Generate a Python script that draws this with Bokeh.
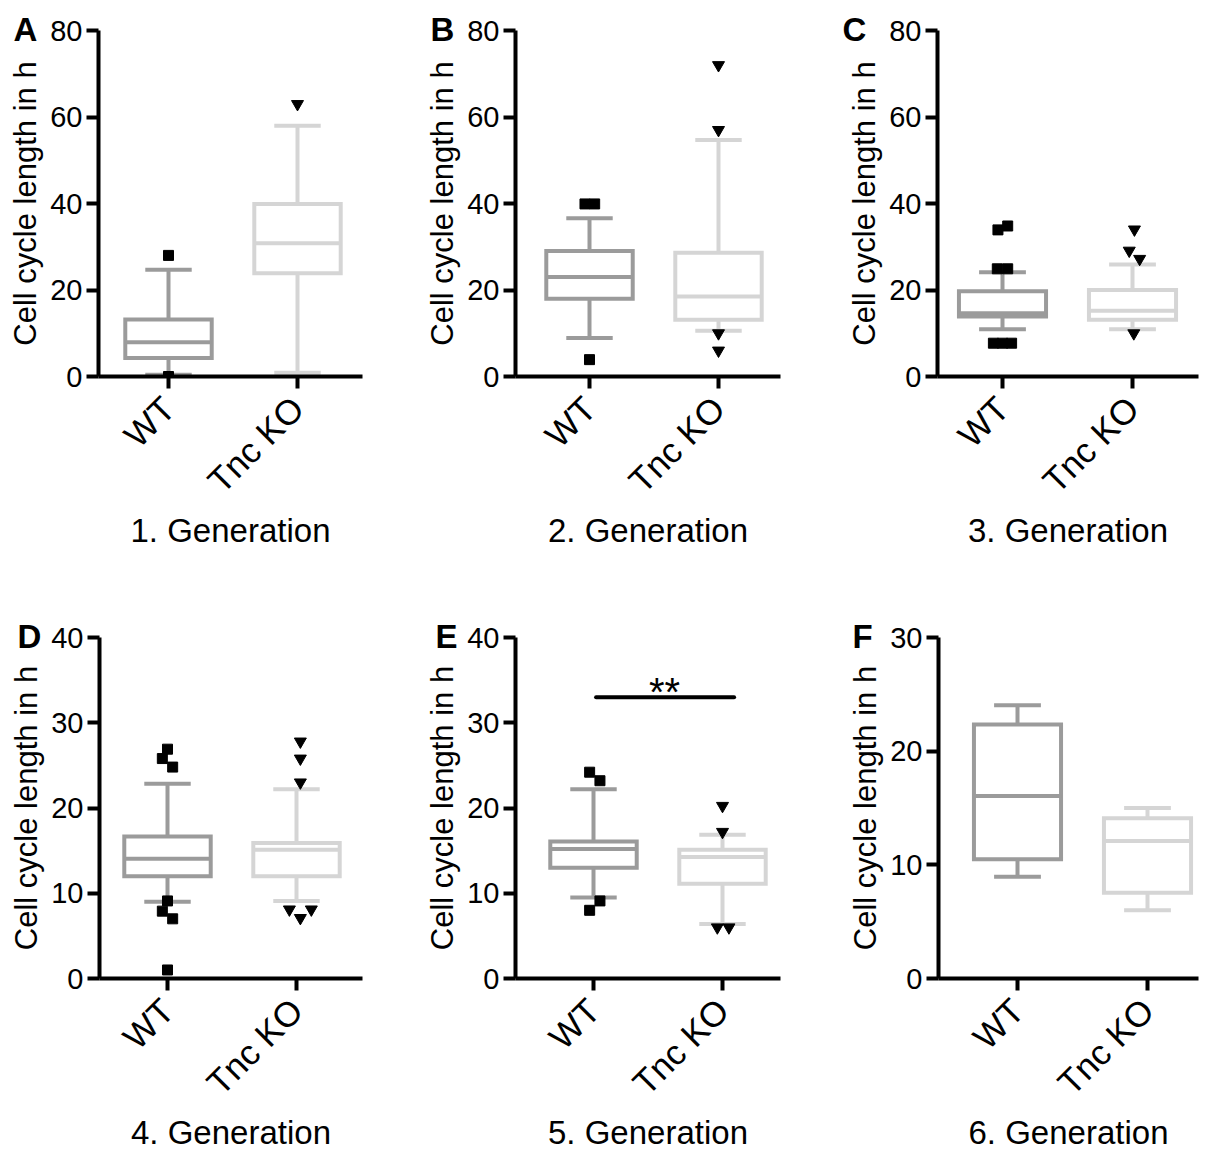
import math
from bokeh.plotting import figure
from bokeh.layouts import row, column
from bokeh.models import Title, FixedTicker
from bokeh.core.properties import value
from bokeh.embed import file_html
from bokeh.resources import INLINE

# ---------------- data ----------------
groups = ["WT", "Tnc KO"]
panel_letters = ["A", "B", "C", "D", "E", "F"]
generations = ["1. Generation", "2. Generation", "3. Generation",
               "4. Generation", "5. Generation", "6. Generation"]
y_max = [80, 80, 80, 40, 40, 30]
y_ticks = [[0, 20, 40, 60, 80], [0, 20, 40, 60, 80], [0, 20, 40, 60, 80],
           [0, 10, 20, 30, 40], [0, 10, 20, 30, 40], [0, 10, 20, 30]]

# box statistics per panel, [WT, Tnc KO]
q1 = [[4.3, 23.9], [18.0, 13.1], [13.9, 13.1], [12.0, 12.0], [13.0, 11.1], [10.5, 7.55]]
median = [[7.9, 30.8], [23.0, 18.5], [14.6, 15.2], [14.05, 15.1], [15.2, 14.25], [16.06, 12.1]]
q3 = [[13.2, 39.9], [29.0, 28.6], [19.7, 20.0], [16.65, 15.9], [16.07, 15.1], [22.35, 14.1]]
whisker_low = [[0.4, 0.85], [8.9, 10.6], [10.9, 10.9], [9.0, 9.1], [9.5, 6.4], [8.95, 6.0]]
whisker_high = [[24.7, 58.0], [36.6, 54.7], [24.1, 25.9], [22.85, 22.2], [22.2, 16.85], [24.05, 15.0]]

# outliers (value, small horizontal spread in category units)
wt_outliers = [[28.0, 0.0], [39.9, 39.9, 3.9], [33.9, 34.8, 24.9, 24.9, 7.7, 7.7, 7.7],
               [26.9, 25.8, 24.8, 9.1, 7.9, 7.0, 1.0], [24.2, 23.2, 9.1, 8.0], []]
wt_spread = [[0, 0], [-0.035, 0.04, 0], [-0.035, 0.04, -0.04, 0.04, -0.07, 0, 0.07],
             [0, -0.04, 0.04, 0, -0.04, 0.04, 0], [-0.03, 0.05, 0.05, -0.03], []]
ko_outliers = [[63.0], [72.0, 57.0, 10.0, 6.0], [34.0, 29.1, 27.2, 10.0],
               [27.8, 25.8, 23.0, 8.1, 8.1, 7.1], [20.25, 17.2, 6.0, 6.0], []]
ko_spread = [[0], [0, 0, 0, 0], [0.015, -0.025, 0.055, 0.01],
             [0.03, 0.03, 0.03, -0.055, 0.115, 0.03], [0, 0, -0.04, 0.05], []]

# significance bar (panel E)
sig_panel = 4
sig_y = 33.0
sig_text = "**"

# ---------------- style / layout ----------------
FONT = "Liberation Sans"
COLORS = ["#9b9b9b", "#d5d5d5"]
BOX_W = 0.67
CAP_W = 0.36
LW = 4

fig_x = [(0, 412), (412, 822), (822, 1209)]
row_y = [(0, 606), (606, 1153)]
row_top = [30, 637]
row_fh = [346, 348]
# (frame left, frame right, WT tick px, category spacing px)
frames = [(98, 362, 168, 129), (515, 780, 589, 129), (937, 1198, 1002, 130),
          (99, 362, 167, 129), (515, 780, 593, 129), (938, 1198, 1017, 130)]
letter_dx = [-85, -85, -95, -82, -80, -86]

figs = []
for k in range(6):
    r, c = divmod(k, 3)
    fx0, fx1 = fig_x[c]
    fy0, fy1 = row_y[r]
    fl, fr, wt_px, sp = frames[k]
    FH = row_fh[r]
    W = fx1 - fx0
    H = fy1 - fy0
    mbl = fl - fx0
    fw = fr - fl
    mbr = W - mbl - fw
    mbt = row_top[r] - fy0
    mbb = H - mbt - FH
    xs = 1 - (wt_px - fl) / sp
    xe = xs + fw / sp

    p = figure(width=W, height=H, x_range=(xs, xe), y_range=(0, y_max[k]),
               min_border_left=mbl, min_border_right=mbr,
               min_border_top=mbt, min_border_bottom=mbb,
               output_backend="svg", toolbar_location=None, tools="")
    p.outline_line_color = None
    p.grid.visible = False
    p.background_fill_color = "white"

    # boxes
    for g in range(2):
        xc = g + 1
        col = COLORS[g]
        p.segment(x0=[xc, xc], y0=[q3[k][g], q1[k][g]], x1=[xc, xc],
                  y1=[whisker_high[k][g], whisker_low[k][g]],
                  line_color=col, line_width=LW)
        p.segment(x0=[xc - CAP_W / 2] * 2, x1=[xc + CAP_W / 2] * 2,
                  y0=[whisker_high[k][g], whisker_low[k][g]],
                  y1=[whisker_high[k][g], whisker_low[k][g]],
                  line_color=col, line_width=LW)
        p.quad(left=[xc - BOX_W / 2], right=[xc + BOX_W / 2], bottom=[q1[k][g]], top=[q3[k][g]],
               fill_color="white", line_color=col, line_width=LW, line_join="miter")
        p.segment(x0=[xc - BOX_W / 2], x1=[xc + BOX_W / 2], y0=[median[k][g]], y1=[median[k][g]],
                  line_color=col, line_width=LW)

    if wt_outliers[k]:
        p.scatter(x=[1 + d for d in wt_spread[k]], y=wt_outliers[k], marker="square",
                  size=10, color="black")
    if ko_outliers[k]:
        p.scatter(x=[2 + d for d in ko_spread[k]], y=ko_outliers[k], marker="inverted_triangle",
                  size=12, color="black")

    if k == sig_panel:
        p.segment(x0=[1.02], x1=[2.09], y0=[sig_y], y1=[sig_y], line_color="black",
                  line_width=LW, line_cap="round")
        p.text(x=[1.55], y=[sig_y], text=[sig_text], text_align="center",
               text_baseline="alphabetic", y_offset=-5, text_font=value(FONT),
               text_font_size="40px", text_color="black")

    # axes
    p.xaxis.ticker = FixedTicker(ticks=[1, 2])
    p.xaxis.major_label_overrides = {1: groups[0], 2: groups[1]}
    p.xaxis.major_label_orientation = math.pi / 4
    p.xaxis.axis_label = generations[k]
    p.yaxis.ticker = FixedTicker(ticks=y_ticks[k])
    p.yaxis.axis_label = "Cell cycle length in h"
    for ax in (p.xaxis[0], p.yaxis[0]):
        ax.axis_line_width = LW
        ax.axis_line_color = "black"
        ax.major_tick_line_width = LW
        ax.major_tick_line_color = "black"
        ax.major_tick_out = 12
        ax.major_tick_in = 0
        ax.minor_tick_line_color = None
        ax.major_label_text_font = FONT
        ax.major_label_text_color = "black"
        ax.axis_label_text_font = FONT
        ax.axis_label_text_font_style = "normal"
        ax.axis_label_text_color = "black"
    p.xaxis.major_label_text_font_size = "35px"
    p.xaxis.major_label_standoff = 14
    p.xaxis.axis_label_text_font_size = "33px"
    p.xaxis.axis_label_standoff = -5
    p.yaxis.major_label_text_font_size = "29px"
    p.yaxis.major_label_standoff = 4
    p.yaxis.axis_label_text_font_size = "31px"
    p.yaxis.axis_label_standoff = 4

    # panel letter as a left-aligned title pulled down beside the top tick label
    p.add_layout(Title(text=panel_letters[k], align="left", offset=letter_dx[k], standoff=-34,
                       text_font=FONT, text_font_style="bold", text_font_size="33px",
                       text_color="black"), "above")
    figs.append(p)

layout = column(row(*figs[:3]), row(*figs[3:]))
open("out.html", "w").write(file_html(layout, INLINE))
